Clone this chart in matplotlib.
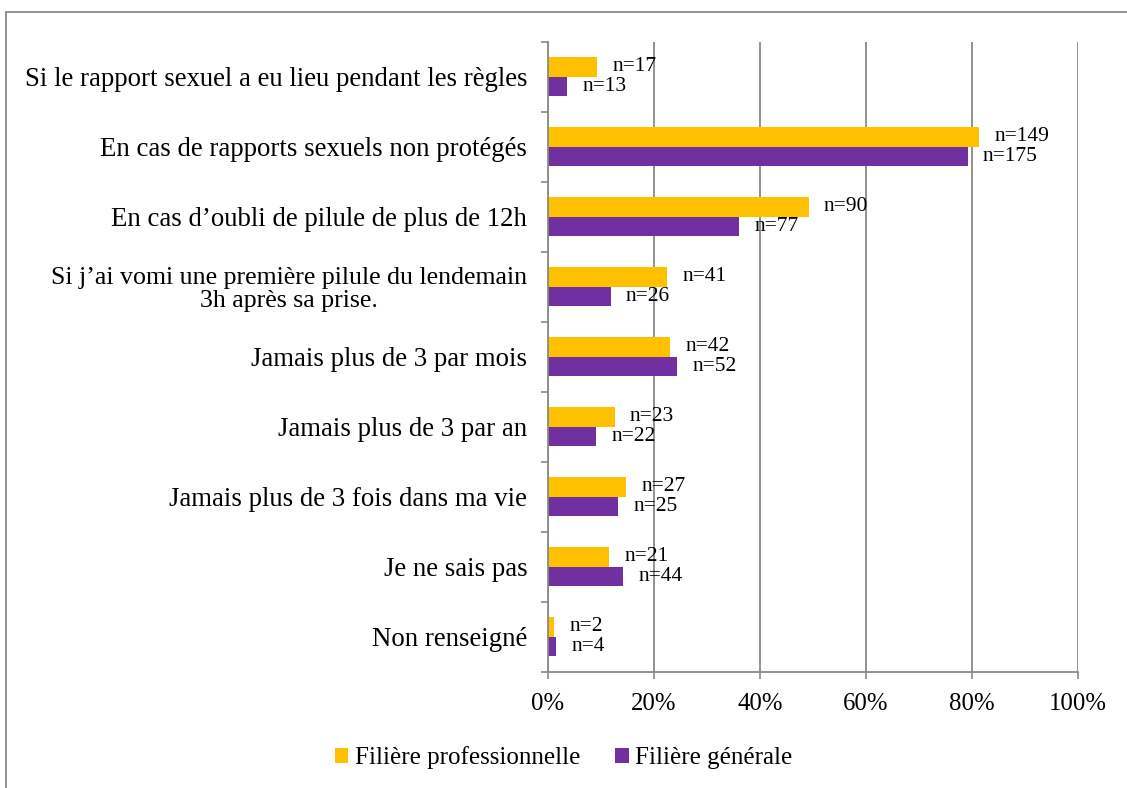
import matplotlib.pyplot as plt
import numpy as np
from matplotlib.patches import Rectangle
from matplotlib.ticker import FixedLocator, PercentFormatter

plt.rcParams['font.family'] = ['Liberation Serif', 'DejaVu Serif']

categories = [
    "Si le rapport sexuel a eu lieu pendant les règles",
    "En cas de rapports sexuels non protégés",
    "En cas d\u2019oubli de pilule de plus de 12h",
    "Si j\u2019ai vomi une première pilule du lendemain\n3h après sa prise.",
    "Jamais plus de 3 par mois",
    "Jamais plus de 3 par an",
    "Jamais plus de 3 fois dans ma vie",
    "Je ne sais pas",
    "Non renseigné",
]
pct_pro = [9.3, 81.4, 49.2, 22.5, 23.0, 12.6, 14.7, 11.5, 1.1]
pct_gen = [3.6, 79.2, 36.1, 11.8, 24.4, 9.1, 13.3, 14.2, 1.5]
n_pro = [17, 149, 90, 41, 42, 23, 27, 21, 2]
n_gen = [13, 175, 77, 26, 52, 22, 25, 44, 4]
series_names = ["Filière professionnelle", "Filière générale"]

col_pro = '#FFC000'
col_gen = '#7030A0'
grey = '#898989'

fig = plt.figure(figsize=(11.27, 7.88), dpi=100)
ax = fig.add_axes([548 / 1127, 1 - 671.7 / 788, 530 / 1127, 630 / 788])

y = np.arange(len(categories))
h = 0.28
b1 = ax.barh(y - h / 2, pct_pro, height=h, color=col_pro, label=series_names[0])
b2 = ax.barh(y + h / 2, pct_gen, height=h, color=col_gen, label=series_names[1])

# n= labels to the right of each bar
for bars, ns in ((b1, n_pro), (b2, n_gen)):
    for bar, n in zip(bars, ns):
        ax.annotate(f"n={n}", (bar.get_width(), bar.get_y() + bar.get_height() / 2),
                    xytext=(11, 0), textcoords='offset points',
                    ha='left', va='center', fontsize=15.5)

ax.set_xlim(0, 100)
ax.set_ylim(len(categories) - 0.5, -0.5)
ax.xaxis.set_major_locator(FixedLocator([0, 20, 40, 60, 80, 100]))
ax.xaxis.set_major_formatter(PercentFormatter(decimals=0))

# ticks between categories, labels centred on categories
ax.yaxis.set_major_locator(FixedLocator(np.arange(-0.5, len(categories), 1)))
ax.yaxis.set_major_formatter(plt.NullFormatter())
ax.set_yticks(y, minor=True)
ax.set_yticklabels(categories, minor=True, fontsize=19.3)
for lab in ax.get_yticklabels(minor=True):
    lab.set_multialignment('center')
    if '\n' in lab.get_text():
        lab.set_fontsize(18.6)
        lab.set_linespacing(1.05)
ax.tick_params(axis='y', which='minor', length=0, pad=15)
ax.tick_params(axis='y', which='major', length=5, width=1.2, color=grey)
ax.tick_params(axis='x', length=5, width=1.2, color=grey, labelsize=17.8, pad=10)

ax.grid(axis='x', color=grey, linewidth=1.3)
ax.set_axisbelow(True)
for s in ('top', 'right'):
    ax.spines[s].set_visible(False)
for s in ('left', 'bottom'):
    ax.spines[s].set_color(grey)
    ax.spines[s].set_linewidth(1.3)

fig.legend(handles=[b1, b2], loc='center', bbox_to_anchor=(0.5, 1 - 758 / 788),
           ncol=2, frameon=False, fontsize=18.0, handlelength=0.55, handleheight=0.55,
           handletextpad=0.25, columnspacing=1.4)

# outer chart frame (cropped at right and bottom)
fig.patches.append(Rectangle((6 / 1127, -0.05), 1.1, 1 - 12 / 788 + 0.05,
                             transform=fig.transFigure, fill=False,
                             edgecolor=grey, linewidth=1.3))

fig.savefig('out.png', dpi=100)
